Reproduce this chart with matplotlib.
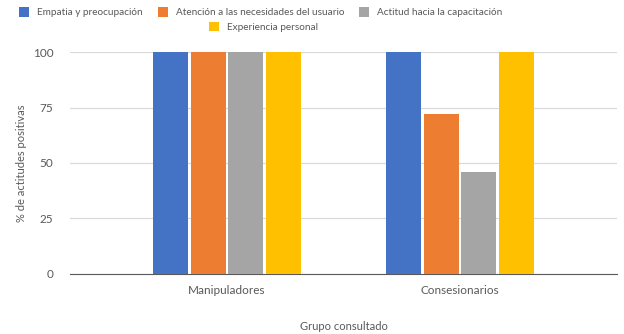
import numpy as np
import matplotlib
matplotlib.use("Agg")
import matplotlib.pyplot as plt

# data
groups = ["Manipuladores", "Consesionarios"]
series = ["Empatia y preocupación", "Atención a las necesidades del usuario",
          "Actitud hacia la capacitación", "Experiencia personal"]
empatia = [100, 100]
atencion = [100, 72]
actitud = [100, 46]
experiencia = [100, 100]
colors = ["#4472C4", "#ED7D31", "#A5A5A5", "#FFC000"]

plt.rcParams['font.family'] = ['Lato', 'DejaVu Sans']
text_col = "#595959"

fig = plt.figure(figsize=(6.24, 3.34), dpi=100)
ax = fig.add_axes([0.112, 0.180, 0.877, 0.664])

x = np.arange(len(groups))
width = 0.15
step = 0.162
values = [empatia, atencion, actitud, experiencia]
bars = []
for i, (name, vals, c) in enumerate(zip(series, values, colors)):
    bars.append(ax.bar(x + (i - 1.5) * step, vals, width, color=c, label=name, zorder=3))

ax.set_xlim(-0.674, 1.674)
ax.set_ylim(0, 100)
ax.set_yticks([0, 25, 50, 75, 100])
ax.grid(axis='y', color="#d9d9d9", linewidth=0.8, zorder=0)
for s in ["top", "right", "left"]:
    ax.spines[s].set_visible(False)
ax.spines["bottom"].set_color("#595959")
ax.tick_params(length=0, colors=text_col, labelsize=8.5)
ax.tick_params(axis='x', pad=8)
ax.tick_params(axis='y', pad=12)
ax.set_xticks(x)
ax.set_xticklabels(groups)
ax.set_ylabel("% de actitudes positivas", color=text_col, fontsize=8, labelpad=4)
ax.set_xlabel("Grupo consultado", color=text_col, fontsize=8, labelpad=18)

# legend: three entries on the first row, the fourth centred below
leg_kw = dict(frameon=False, fontsize=7.2, labelcolor=text_col, handlelength=1.0,
              handleheight=1.1, columnspacing=1.5, handletextpad=0.8)
fig.legend(bars[:3], series[:3], loc="center", bbox_to_anchor=(0.418, 0.963),
           ncol=3, **leg_kw)
fig.legend(bars[3:], series[3:], loc="center", bbox_to_anchor=(0.422, 0.920), **leg_kw)

fig.savefig("out.png", dpi=100)
